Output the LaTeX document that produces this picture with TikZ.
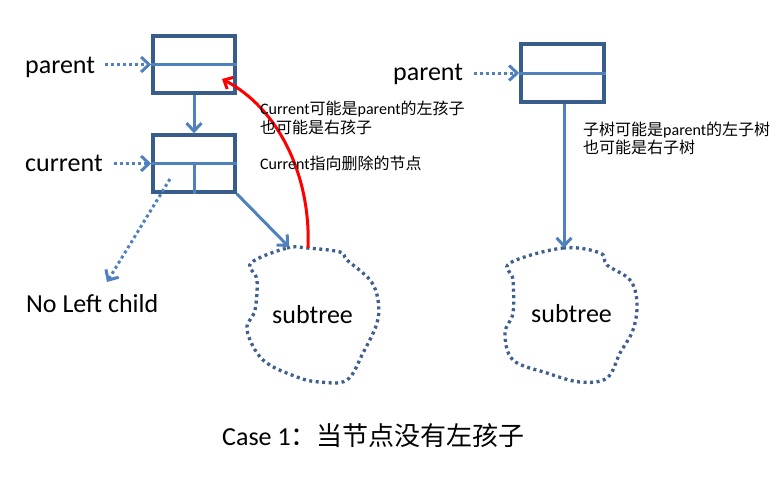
\documentclass[tikz,border=0pt]{standalone}
\usepackage{fontspec}
\setmainfont{Carlito}
\newfontfamily\cjk{Noto Sans CJK SC}
\usetikzlibrary{arrows.meta, positioning}

\definecolor{boxblue}{HTML}{385D8A}
\definecolor{lineblue}{HTML}{4F81BD}
\definecolor{dotblue}{HTML}{3F5F8F}

\tikzset{
  nodebox/.style={draw=boxblue, line width=3.5pt, minimum width=82pt, minimum height=57pt, inner sep=0pt},
  lbl/.style={font=\fontsize{26}{30}\selectfont, inner sep=0pt, anchor=base west},
  note/.style={font=\fontsize{16}{19}\selectfont, inner sep=0pt, anchor=base west},
  link/.style={draw=lineblue, line width=3pt, -{Straight Barb[length=8pt,width=15pt]}},
  ptr/.style={link, dash pattern=on 3pt off 3pt},
  blob/.style={draw=dotblue, line width=3.3pt, dash pattern=on 3pt off 3.5pt},
}

\begin{document}
\begin{tikzpicture}[x=1pt, y=-1pt]
            \useasboundingbox (0,0) rectangle (782,480);
            % left half: parent and current
            \node [nodebox] (parentA) at (194,64.5) {};
            \node [nodebox] (currentA) at (194,163.5) {};
            \draw [lineblue, line width=3pt] (parentA.west) -- (parentA.east);
            \draw [lineblue, line width=3pt] (currentA.west) -- (currentA.east);
            \draw [lineblue, line width=3pt] (currentA.center) -- (currentA.south);
            \node [lbl] (parentLblA) at (25,73) {parent};
            \node [lbl] (currentLbl) at (25,171) {current};
            \node [lbl] (noLeft) at (26,312) {No Left child};
            \draw [ptr] (parentA.west -| parentLblA.east) ++(10,0) -- (parentA.west);
            \draw [ptr] (currentA.west -| currentLbl.east) ++(11,0) -- (currentA.west);
            \draw [link] (parentA.south) -- (currentA.north);
            \coordinate (nullL) at (170,179);
            \coordinate (nullTip) at (107,282);
            \draw [ptr] (nullL) -- (nullTip);

            % left subtree
            \draw [blob] plot [smooth cycle, tension=0.6] coordinates {(251,263) (287,248) (307,248) (340,252) (347,260) (370,280) (378,300) (377,323) (363,353) (347,380) (320,382) (297,377) (263,360) (247,330) (255,310) (257,280)};
            \node [lbl] (subtreeA) at (272,323) {subtree};
            \coordinate (topA) at (289,247);
            \coordinate (redFoot) at (308,248);
            \coordinate (redTip) at (222,79);
            \draw [link] (currentA.south east) -- (topA);
            \draw [red, line width=3pt, -{Straight Barb[length=7pt,width=13pt]}] (redFoot) .. controls (311,175) and (278,108) .. (redTip);
            \node [note] (noteA1) at (260,114) {Current{\cjk 可能是}parent{\cjk 的左孩子}};
            \node [note] (noteA2) at (260,133) {\cjk 也可能是右孩子};
            \node [note] (noteA3) at (260,169) {Current{\cjk 指向删除的节点}};

            % right half
            \node [nodebox, minimum width=83pt, minimum height=58pt] (parentB) at (562.5,73) {};
            \draw [lineblue, line width=3pt] (parentB.west) -- (parentB.east);
            \node [lbl] (parentLblB) at (393,80) {parent};
            \draw [ptr] (parentB.west -| parentLblB.east) ++(11,0) -- (parentB.west);
            \draw [blob] plot [smooth cycle, tension=0.6] coordinates {(510,263) (563,248) (600,253) (607,265) (630,280) (637,303) (633,330) (620,353) (607,378) (580,382) (547,373) (513,360) (505,333) (513,313) (513,280)};
            \node [lbl] (subtreeB) at (531,322) {subtree};
            \coordinate (topB) at (564,248);
            \draw [link] (parentB.south -| topB) -- (topB);
            \node [note] (noteB1) at (583,135) {{\cjk 子树可能是}parent{\cjk 的左子树}};
            \node [note] (noteB2) at (583,153) {\cjk 也可能是右子树};

            \node [font=\fontsize{26}{30}\selectfont, inner sep=0pt, anchor=base west] (caption) at (222,445) {Case 1{\cjk ：当节点没有左孩子}};
\end{tikzpicture}
\end{document}
